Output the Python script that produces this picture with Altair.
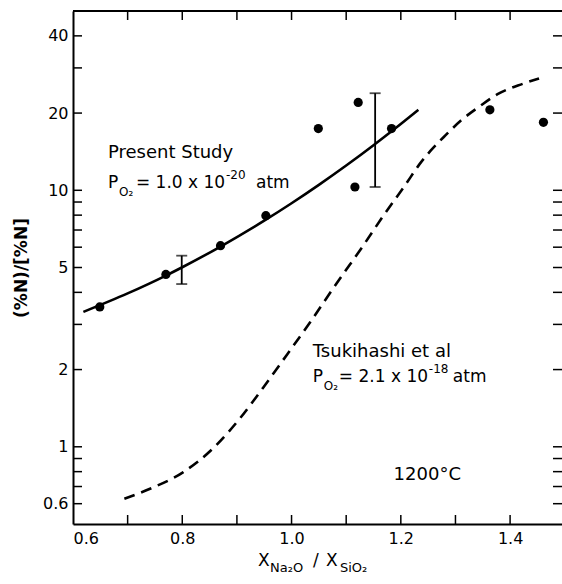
import altair as alt
import pandas as pd

# ---- data ----
pt_x = [0.649, 0.770, 0.870, 0.953, 1.049, 1.122, 1.116, 1.183, 1.363, 1.461]
pt_y = [3.51, 4.70, 6.08, 7.96, 17.4, 22.0, 10.3, 17.4, 20.6, 18.4]

err_x = [0.799, 1.153]
err_lo = [4.31, 10.3]
err_hi = [5.56, 23.9]

fit_x = [0.619, 0.70, 0.77, 0.80, 0.87, 0.95, 1.00, 1.05, 1.10, 1.15, 1.19, 1.232]
fit_y = [3.357, 3.962, 4.65, 5.012, 6.034, 7.61, 8.90, 10.50, 12.49, 14.99, 17.46, 20.60]

tsu_x = [0.694, 0.741, 0.802, 0.857, 0.906, 0.948, 0.984, 1.034, 1.082, 1.131,
         1.167, 1.207, 1.235, 1.255, 1.282, 1.310, 1.345, 1.377, 1.423, 1.453]
tsu_y = [0.627, 0.686, 0.797, 0.989, 1.294, 1.70, 2.17, 3.06, 4.32, 6.08,
         7.90, 10.4, 12.7, 14.3, 16.4, 18.7, 21.3, 23.7, 26.0, 27.3]

y_ticks = [0.6, 0.7, 0.8, 0.9, 1, 2, 3, 4, 5, 6, 7, 8, 9, 10, 20, 30, 40]
y_labels = [0.6, 1, 2, 5, 10, 20, 40]
x_ticks = [0.7, 0.8, 0.9, 1.0, 1.1, 1.2, 1.3, 1.4]
x_labels = [0.6, 0.8, 1.0, 1.2, 1.4]

F = "DejaVu Sans"
W, H = 489, 513

xs = alt.Scale(domain=[0.6, 1.495], nice=False, zero=False)
ys = alt.Scale(type="log", domain=[0.5, 50], nice=False)

axX = alt.Axis(values=x_labels, format=".1f", title=None, grid=False, ticks=False,
               domainColor="black", domainWidth=2, labelFont=F, labelFontSize=16,
               labelColor="black", labelPadding=6)
axY = alt.Axis(values=y_labels, format="~g", title="(%N)/[%N]", grid=False, ticks=False,
               domainColor="black", domainWidth=2, labelFont=F, labelFontSize=16,
               labelColor="black", labelPadding=5, titleFont=F, titleFontSize=17,
               titleFontWeight="bold", titleColor="black", titlePadding=12)

pts = pd.DataFrame({"x": pt_x, "y": pt_y})
err = pd.DataFrame({"x": err_x, "lo": err_lo, "hi": err_hi})
fit = pd.DataFrame({"x": fit_x, "y": fit_y})
tsu = pd.DataFrame({"x": tsu_x, "y": tsu_y})
ytk = pd.DataFrame({"v": y_ticks})
xtk = pd.DataFrame({"v": x_ticks})


def X(f="x"):
    return alt.X(f"{f}:Q", scale=xs, axis=axX)


def Y(f="y"):
    return alt.Y(f"{f}:Q", scale=ys, axis=axY)


fit_line = alt.Chart(fit).mark_line(color="black", strokeWidth=2.6, interpolate="monotone").encode(
    x=X(), y=Y(), order="x:Q")
tsu_line = alt.Chart(tsu).mark_line(color="black", strokeWidth=2.6, strokeDash=[11, 7],
                                    interpolate="monotone").encode(x=X(), y=Y(), order="x:Q")
dots = alt.Chart(pts).mark_circle(color="black", opacity=1, size=85).encode(x=X(), y=Y())
bars = alt.Chart(err).mark_rule(color="black", strokeWidth=1.8).encode(x=X(), y=Y("lo"), y2="hi:Q")
cap_lo = alt.Chart(err).mark_tick(color="black", orient="horizontal", size=11, thickness=1.8).encode(x=X(), y=Y("lo"))
cap_hi = alt.Chart(err).mark_tick(color="black", orient="horizontal", size=11, thickness=1.8).encode(x=X(), y=Y("hi"))

tl = 9
left_t = alt.Chart(ytk).mark_rule(color="black", strokeWidth=1.5).encode(y=Y("v"), x=alt.value(0), x2=alt.value(tl))
right_t = alt.Chart(ytk).mark_rule(color="black", strokeWidth=1.5).encode(y=Y("v"), x=alt.value(W - tl), x2=alt.value(W))
top_t = alt.Chart(xtk).mark_rule(color="black", strokeWidth=1.5).encode(x=X("v"), y=alt.value(0), y2=alt.value(tl))
bot_t = alt.Chart(xtk).mark_rule(color="black", strokeWidth=1.5).encode(x=X("v"), y=alt.value(H - tl), y2=alt.value(H))
top_line = alt.Chart(xtk).mark_rule(color="black", strokeWidth=2).encode(
    x=alt.value(0), x2=alt.value(W), y=alt.value(0))

one = pd.DataFrame({"a": [0]})


def ann(text, x, y, dx=0, dy=0, size=18, align="left"):
    return alt.Chart(pd.DataFrame({"x": [x], "y": [y]})).mark_text(
        text=text, dx=dx, dy=dy, align=align, baseline="middle", font=F,
        fontSize=size, color="black").encode(x=X(), y=Y())


def pix(text, px, py, size=17):
    return alt.Chart(one).mark_text(
        text=text, align="left", baseline="middle", font=F, fontSize=size,
        color="black").encode(x=alt.value(px), y=alt.value(py))


labels = [
    ann("Present Study", 0.664, 14.0),
    ann("P", 0.664, 10.7, size=17),
    ann("O₂", 0.664, 10.7, dx=11, dy=9, size=12),
    ann("= 1.0 x 10", 0.664, 10.7, dx=28, size=17),
    ann("-20", 0.664, 10.7, dx=118, dy=-8, size=12),
    ann("atm", 0.664, 10.7, dx=148, size=17),
    ann("Tsukihashi et al", 1.039, 2.34),
    ann("P", 1.039, 1.87, size=17),
    ann("O₂", 1.039, 1.87, dx=11, dy=9, size=12),
    ann("= 2.1 x 10", 1.039, 1.87, dx=26, size=17),
    ann("-18", 1.039, 1.87, dx=116, dy=-8, size=12),
    ann("atm", 1.039, 1.87, dx=140, size=17),
    ann("1200°C", 1.2484, 0.776, align="center"),
    pix("X", 185, 550),
    pix("Na₂O", 197, 557, size=13),
    pix("/", 240, 550),
    pix("X", 253, 550),
    pix("SiO₂", 267, 557, size=13),
]

chart = alt.layer(
    fit_line, tsu_line, dots, bars, cap_lo, cap_hi,
    left_t, right_t, top_t, bot_t, top_line, *labels
).properties(
    width=W, height=H,
    autosize=alt.AutoSizeParams(type="none"),
    padding={"left": 73, "top": 11, "right": 0, "bottom": 60},
    background="white",
).configure_view(stroke=None)

chart.save("out.html", embed_options={"renderer": "svg", "actions": False})
